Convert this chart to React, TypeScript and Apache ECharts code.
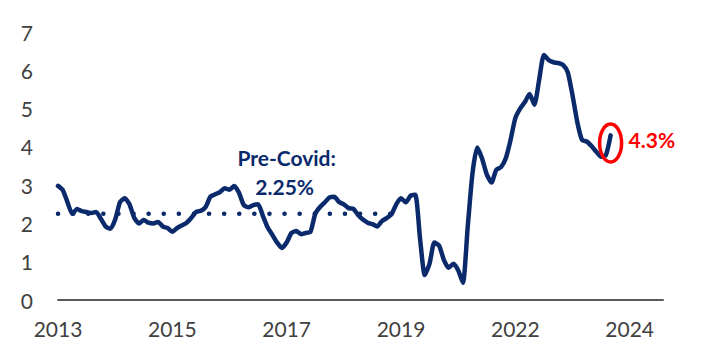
import React, { useEffect, useRef } from "react";
import * as echarts from "echarts";

const tickLabels = ["2013", "2015", "2017", "2019", "2022", "2024"];
const labelStep = 24;
const categoryCount = 128;

const values = [
  2.98, 2.87, 2.55, 2.25, 2.38, 2.32, 2.3, 2.27, 2.3, 2.12,
  1.92, 1.86, 2.1, 2.55, 2.66, 2.5, 2.15, 2.0, 2.09, 2.02,
  2.0, 2.04, 1.92, 1.88, 1.78, 1.88, 1.95, 2.02, 2.15, 2.3,
  2.33, 2.43, 2.7, 2.76, 2.82, 2.92, 2.88, 2.98, 2.8, 2.48,
  2.42, 2.48, 2.5, 2.2, 1.9, 1.7, 1.5, 1.36, 1.5, 1.75,
  1.8, 1.72, 1.75, 1.78, 2.25, 2.43, 2.55, 2.68, 2.7, 2.56,
  2.5, 2.4, 2.38, 2.22, 2.1, 2.02, 1.98, 1.92, 2.06, 2.14,
  2.24, 2.5, 2.66, 2.55, 2.72, 2.75, 1.6, 0.65, 0.95, 1.5,
  1.42, 1.05, 0.84, 0.95, 0.78, 0.45, 1.9, 3.3, 3.98, 3.7,
  3.28, 3.07, 3.4, 3.47, 3.7, 4.18, 4.75, 5.0, 5.17, 5.38,
  5.1, 5.75, 6.4, 6.27, 6.21, 6.19, 6.14, 5.95, 5.35, 4.65,
  4.18, 4.14, 4.02, 3.87, 3.74, 3.78, 4.3,
];

const preCovidLevel = 2.25;
const preCovidEndIndex = 71;
const latestLabel = "4.3%";
const preCovidTitle = "Pre-Covid:";
const preCovidValue = "2.25%";

const NAVY = "#0a2a6b";
const FONT = "Lato, 'Open Sans', sans-serif";

export default function App() {
  const ref = useRef<HTMLDivElement>(null);

  useEffect(() => {
    document.body.style.margin = "0";
    if (!ref.current) return;
    const chart = echarts.init(ref.current, null, { renderer: "svg" });
    const categories = Array.from({ length: categoryCount }, (_, i) => `m${i}`);
    const dotted = categories.map((_, i) => (i <= preCovidEndIndex ? preCovidLevel : null));

    chart.setOption({
      animation: false,
      grid: { left: 58, right: 58, top: 32, bottom: 55 },
      xAxis: {
        type: "category",
        data: categories,
        boundaryGap: false,
        axisLine: { show: true, lineStyle: { color: "#595959", width: 2 } },
        axisTick: { show: false },
        axisLabel: {
          interval: labelStep - 1,
          formatter: (_v: string, idx: number) => tickLabels[idx / labelStep] ?? "",
          color: "#404040",
          fontFamily: FONT,
          fontSize: 21,
          margin: 18,
        },
        splitLine: { show: false },
      },
      yAxis: {
        type: "value",
        min: 0,
        max: 7,
        interval: 1,
        axisLine: { show: false },
        axisTick: { show: false },
        splitLine: { show: false },
        axisLabel: {
          color: "#404040",
          fontFamily: FONT,
          fontSize: 21,
          margin: 25,
        },
      },
      series: [
        {
          type: "line",
          data: dotted,
          symbol: "none",
          silent: true,
          lineStyle: { color: NAVY, width: 4.5, type: [0.1, 15], cap: "round" },
        },
        {
          type: "line",
          data: values,
          symbol: "none",
          smooth: 0.2,
          lineStyle: { color: NAVY, width: 4.5, join: "round", cap: "round" },
        },
      ],
    });

    const last = values.length - 1;
    const c = chart.convertToPixel({ seriesIndex: 1 }, [last, 4.1]) as number[];
    const lbl = chart.convertToPixel({ seriesIndex: 1 }, [48, 3.7]) as number[];

    chart.setOption({
      graphic: [
        {
          type: "ellipse",
          shape: { cx: c[0], cy: c[1], rx: 11, ry: 19 },
          style: { fill: "none", stroke: "#ff0000", lineWidth: 3.5 },
          z: 10,
        },
        {
          type: "text",
          x: c[0] + 18,
          y: c[1] - 4,
          style: {
            text: latestLabel,
            fill: "#ff0000",
            font: `bold 21px ${FONT}`,
            textAlign: "left",
            textVerticalAlign: "middle",
          },
          z: 10,
        },
        {
          type: "text",
          x: lbl[0],
          y: 157,
          style: {
            text: preCovidTitle,
            fill: NAVY,
            font: `bold 21px ${FONT}`,
            textAlign: "center",
            textVerticalAlign: "middle",
          },
        },
        {
          type: "text",
          x: lbl[0] - 2,
          y: 186,
          style: {
            text: preCovidValue,
            fill: NAVY,
            font: `bold 21px ${FONT}`,
            textAlign: "center",
            textVerticalAlign: "middle",
          },
        },
      ],
    });

    return () => chart.dispose();
  }, []);

  return <div ref={ref} style={{ width: 721, height: 355 }} />;
}
